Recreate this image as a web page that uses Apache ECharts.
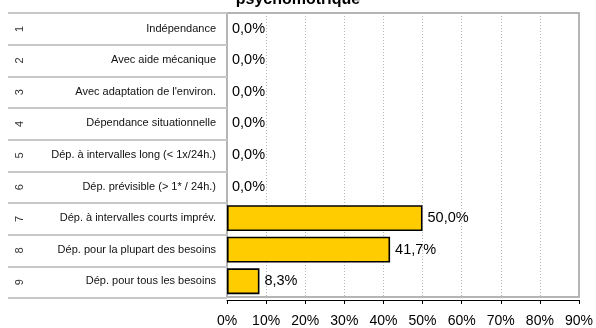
<!DOCTYPE html>
<html>
<head>
<meta charset="utf-8">
<script src="https://cdn.jsdelivr.net/npm/echarts@6/dist/echarts.min.js"></script>
<style>
  html, body { margin: 0; padding: 0; background: #fff; }
  #chart { width: 596px; height: 328px; }
</style>
</head>
<body>
<div id="chart"></div>
<script>
// Level codes and their descriptions (top to bottom)
const levelCodes = ['1', '2', '3', '4', '5', '6', '7', '8', '9'];
const levelNames = [
  'Indépendance',
  'Avec aide mécanique',
  "Avec adaptation de l'environ.",
  'Dépendance situationnelle',
  'Dép. à intervalles long (< 1x/24h.)',
  'Dép. prévisible (> 1* / 24h.)',
  'Dép. à intervalles courts imprév.',
  'Dép. pour la plupart des besoins',
  'Dép. pour tous les besoins'
];
// Share of people at each level, in percent
const shares = [0, 0, 0, 0, 0, 0, 50.0, 41.7, 8.3];
// Percent scale of the horizontal axis
const axisMin = 0, axisMax = 90, axisStep = 10;

const FONT = "'Liberation Sans', Arial, sans-serif";
const fmtPct = v => v.toFixed(1).replace('.', ',') + '%';

const chart = echarts.init(document.getElementById('chart'), null, { renderer: 'canvas' });

chart.setOption({
  backgroundColor: '#ffffff',
  animation: false,
  textStyle: { fontFamily: FONT },
  title: {
    text: 'psychomotrique',
    left: 'center',
    top: -8,
    padding: 0,
    textStyle: { fontFamily: FONT, fontSize: 16, fontWeight: 'bold', color: '#000' }
  },
  grid: [
    { // plot area
      left: 227, right: 16, top: 13, bottom: 30,
      show: true, borderColor: '#b4b4b4', borderWidth: 2, backgroundColor: 'transparent'
    },
    { // table of codes on the left
      left: 8, right: 596 - 227, top: 13, bottom: 30
    }
  ],
  xAxis: [
    {
      gridIndex: 0,
      type: 'value',
      min: axisMin, max: axisMax, interval: axisStep,
      offset: 3,
      axisLine: { show: true, lineStyle: { color: '#000', width: 1 } },
      axisTick: { show: true, length: 4, lineStyle: { color: '#000' } },
      axisLabel: { formatter: '{value}%', fontSize: 14, color: '#000', margin: 14, fontFamily: FONT },
      splitLine: { show: true, lineStyle: { color: '#b8b8b8', type: [1, 2], width: 1 } }
    },
    { gridIndex: 1, type: 'value', show: false }
  ],
  yAxis: [
    {
      gridIndex: 0,
      type: 'category',
      inverse: true,
      data: levelNames,
      axisLine: { show: false },
      axisTick: { show: false },
      axisLabel: { fontSize: 11, color: '#111', margin: 11, fontFamily: FONT },
      splitLine: { show: false }
    },
    {
      gridIndex: 1,
      type: 'category',
      inverse: true,
      data: levelCodes,
      axisLine: { show: false },
      axisTick: { show: false },
      axisLabel: { inside: true, rotate: 90, fontSize: 11, color: '#333', margin: 6, fontFamily: FONT },
      splitLine: { show: true, lineStyle: { color: '#c8c8c8', width: 2 } }
    }
  ],
  series: [
    {
      type: 'bar',
      xAxisIndex: 0,
      yAxisIndex: 0,
      barCategoryGap: '18%',
      data: shares.map(v => ({ value: v, itemStyle: v === 0 ? { borderWidth: 0 } : undefined })),
      itemStyle: { color: '#FFCC00', borderColor: '#000', borderWidth: 1.6 },
      label: {
        show: true,
        position: 'right',
        distance: 5,
        fontSize: 14.5,
        color: '#000',
        fontFamily: FONT,
        formatter: p => fmtPct(p.value)
      }
    }
  ]
});
</script>
</body>
</html>
